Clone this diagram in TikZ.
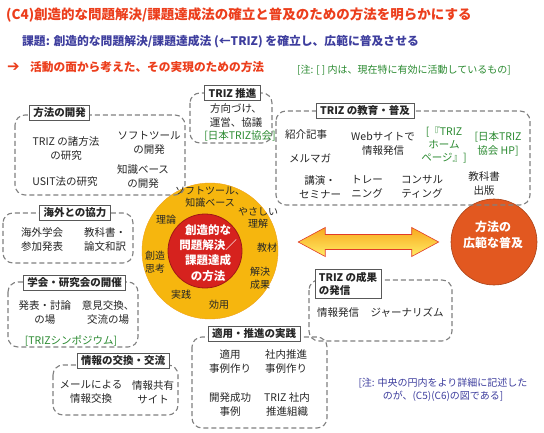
\documentclass[tikz,border=0pt]{standalone}
\usepackage{fontspec}
\setmainfont{Noto Sans CJK JP}
\newfontfamily\symfont{DejaVu Sans}
\usetikzlibrary{calc}
\definecolor{ttlred}{RGB}{236,62,28}
\definecolor{ttlblue}{RGB}{62,62,158}
\definecolor{notegreen}{RGB}{42,138,48}
\definecolor{dashgray}{RGB}{128,128,128}
\definecolor{ringyellow}{RGB}{246,182,14}
\definecolor{corered}{RGB}{214,34,30}
\definecolor{spreadorange}{RGB}{226,88,32}
\tikzset{
  grpbox/.style={draw=dashgray, line width=1.1pt, dash pattern=on 5pt off 3pt, rounded corners=10pt},
  ttl/.style={draw=black!65, fill=white, line width=0.7pt, text=black!85, inner xsep=4pt, inner ysep=2.5pt,
    font=\fontsize{10.5}{13.3}\selectfont\bfseries},
  item/.style={align=center, inner sep=0pt, text=black!85, font=\fontsize{10.5}{14}\selectfont},
  grn/.style={item, text=notegreen},
  ringtxt/.style={align=center, inner sep=0pt, text=black!85, font=\fontsize{10}{12.5}\selectfont},
  whitetxt/.style={align=center, inner sep=0pt, text=white, font=\fontsize{11.5}{15.3}\selectfont\bfseries},
  bigarrow/.style={draw={rgb,255:red,225;green,60;blue,40}, line width=0.6pt,
    top color={rgb,255:red,248;green,168;blue,30}, middle color={rgb,255:red,255;green,222;blue,60},
    bottom color={rgb,255:red,255;green,236;blue,100}}
}
\begin{document}
\begin{tikzpicture}[x=1pt,y=-1pt]
\fill[white] (0,0) rectangle (544,433);
\useasboundingbox (0,0) rectangle (544,433);
\node[anchor=west, inner sep=0pt, text=ttlred, font=\fontsize{13.5}{16}\selectfont\bfseries] (head) at (6,15)
  {(C4)創造的な問題解決/課題達成法の確立と普及のための方法を明らかにする};
\node[anchor=west, inner sep=0pt, text=ttlblue, font=\fontsize{11.8}{14}\selectfont\bfseries] (task) at (22,42)
  {課題: 創造的な問題解決/課題達成法 (←TRIZ) を確立し、広範に普及させる};
\node[anchor=west, inner sep=0pt, text=ttlred, font=\symfont\fontsize{15}{16}\selectfont] (go) at (7,67) {➔};
\node[anchor=west, inner sep=0pt, text=ttlred, font=\fontsize{11.7}{14}\selectfont\bfseries] (means) at (30,67)
  {活動の面から考えた、その実現のための方法};
\node[anchor=west, inner sep=0pt, text=notegreen, font=\fontsize{10}{11}\selectfont] (legend) at (297,70)
  {[注: [ ] 内は、現在特に有効に活動しているもの]};

\node[circle, fill=ringyellow, draw={rgb,255:red,240;green,160;blue,20}, minimum size=136pt, inner sep=0pt] (ring) at (210,251) {};
\node[circle, fill=corered, draw=corered!75!black, line width=0.8pt, minimum size=74pt, inner sep=0pt] (core) at (205,251) {};
\node[whitetxt] (coretxt) at (208,253) {創造的な\\問題解決／\\課題達成\\の方法};
\node[ringtxt] (r1) at (210,197) {ソフトツール、\\知識ベース};
\node[ringtxt] (r2) at (258,218) {やさしい\\理解};
\node[ringtxt] (r3) at (166,220) {理論};
\node[ringtxt] (r4) at (155,262) {創造\\思考};
\node[ringtxt] (r5) at (267,248) {教材};
\node[ringtxt] (r6) at (260,278) {解決\\成果};
\node[ringtxt] (r7) at (181,295) {実践};
\node[ringtxt] (r8) at (219,305) {効用};

\node[circle, fill=spreadorange, draw=spreadorange!75!black, line width=0.6pt, minimum size=86pt, inner sep=0pt] (spread) at (494,242) {};
\node[whitetxt, font=\fontsize{12}{16.5}\selectfont\bfseries] (spreadtxt) at (493,235) {方法の\\広範な普及};

\coordinate (al) at ($(ring.east)+(20,-9)$);
\coordinate (ar) at ($(spread.west)+(-12,0)$);
\draw[bigarrow] (al) -- ++(27,-14.5) -- ++(0,7) -- ($(ar)+(-27,-7.5)$) -- ++(0,-7) -- (ar)
  -- ++(-27,14.5) -- ++(0,-7) -- ($(al)+(27,7.5)$) -- ++(0,7) -- cycle;

\draw[grpbox] (15,115) rectangle (185,195);
\node[ttl] (devt) at (59.5,113) {方法の開発};
\node[item] (dev1) at (66,149) {TRIZ の諸方法\\の研究};
\node[item] (dev2) at (149,143) {ソフトツール\\の開発};
\node[item] (dev3) at (65,182) {USIT法の研究};
\node[item] (dev4) at (143,177) {知識ベース\\の開発};

\draw[grpbox] (190,93) rectangle (272,143);
\node[ttl] (promt) at (232.5,93) {TRIZ 推進};
\node[item] (prom1) at (236,116) {方向づけ、\\運営、協議};
\node[grn] (prom2) at (240,136) {[日本TRIZ協会]};

\draw[grpbox] (276,111) rectangle (530,205);
\node[ttl] (edut) at (365,111) {TRIZ の教育・普及};
\node[item] (edu1) at (306,135) {紹介記事};
\node[item] (edu2) at (310,158) {メルマガ};
\node[item] (edu3) at (383,144) {Webサイトで\\情報発信};
\node[grn, font=\fontsize{10.5}{13.3}\selectfont] (edu4) at (444,145) {[『TRIZ\\ホーム\\ページ』]};
\node[grn] (edu5) at (498,144) {[日本TRIZ\\協会 HP]};
\node[item] (edu6) at (320,187) {講演・\\セミナー};
\node[item] (edu7) at (367,187) {トレー\\ニング};
\node[item] (edu8) at (422,187) {コンサル\\ティング};
\node[item] (edu9) at (484,184) {教科書\\出版};

\draw[grpbox] (3,213) rectangle (133,263);
\node[ttl] (intlt) at (75,213) {海外との協力};
\node[item] (intl1) at (42,240) {海外学会\\参加発表};
\node[item] (intl2) at (105,240) {教科書・\\論文和訳};

\draw[grpbox] (8,282) rectangle (138,347);
\node[ttl] (conft) at (74.5,283) {学会・研究会の開催};
\node[item] (conf1) at (45,313) {発表・討論\\の場};
\node[item] (conf2) at (108,313) {意見交換、\\交流の場};
\node[grn] (conf3) at (71,341) {[TRIZシンポジウム]};

\draw[grpbox] (53,365) rectangle (178,415);
\node[ttl] (infot) at (123,361) {情報の交換・交流};
\node[item] (info1) at (91,392) {メールによる\\情報交換};
\node[item] (info2) at (153,392) {情報共有\\サイト};

\draw[grpbox] (192,337) rectangle (327,428);
\node[ttl] (pract) at (254,334) {適用・推進の実践};
\node[item] (prac1) at (230,362) {適用\\事例作り};
\node[item] (prac2) at (286,362) {社内推進\\事例作り};
\node[item] (prac3) at (230,405) {開発成功\\事例};
\node[item] (prac4) at (287,405) {TRIZ 社内\\推進組織};

\draw[grpbox] (309,280) rectangle (452,341);
\node[ttl, align=left] (outt) at (348,284) {TRIZ の成果\\の発信};
\node[item] (out1) at (338,313) {情報発信};
\node[item] (out2) at (407,313) {ジャーナリズム};

\node[align=center, inner sep=0pt, text=ttlblue, font=\fontsize{10}{12.7}\selectfont] (note) at (443,390)
  {[注: 中央の円内をより詳細に記述した\\のが、(C5)(C6)の図である]};
\end{tikzpicture}
\end{document}
